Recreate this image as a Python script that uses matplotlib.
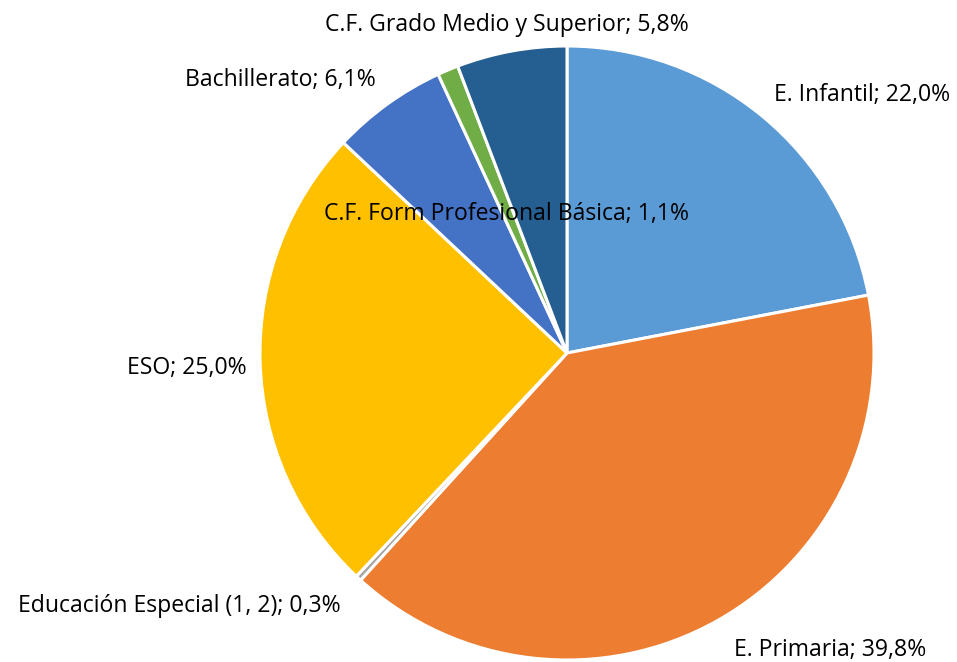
import matplotlib.pyplot as plt

labels = ["E. Infantil", "E. Primaria", "Educación Especial (1, 2)", "ESO",
          "Bachillerato", "C.F. Form Profesional Básica", "C.F. Grado Medio y Superior"]
values = [22.0, 39.8, 0.3, 25.0, 6.1, 1.1, 5.8]
colors = ["#5B9BD5", "#ED7D31", "#A5A5A5", "#FFC000", "#4472C4", "#70AD47", "#255E91"]

# label centre points in pixels (x, y from top)
label_pos = [(862, 95), (830, 650), (179, 606), (187, 368),
             (280, 80), (506, 214), (507, 25)]

plt.rcParams['font.family'] = ['Open Sans', 'DejaVu Sans']

W, H = 957, 662
fig = plt.figure(figsize=(W / 100, H / 100), dpi=100)
ax = fig.add_axes([0, 0, 1, 1])

ax.pie(values, colors=colors, startangle=90, counterclock=False,
       center=(567, H - 353), radius=307,
       wedgeprops=dict(edgecolor='white', linewidth=2.2))

ax.set_xlim(0, W)
ax.set_ylim(0, H)
ax.set_aspect('equal')
ax.axis('off')

for lab, v, (x, y) in zip(labels, values, label_pos):
    txt = f"{lab}; " + f"{v:.1f}".replace(".", ",") + "%"
    ax.text(x, H - y, txt, ha='center', va='center', fontsize=16.6, color='#000000')

fig.savefig("out.png", dpi=100)
